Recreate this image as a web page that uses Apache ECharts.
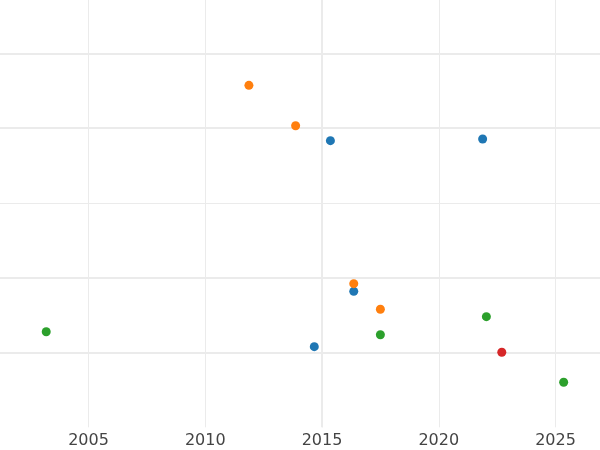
<!DOCTYPE html>
<html>
<head>
<meta charset="utf-8">
<script src="https://cdn.jsdelivr.net/npm/echarts@6/dist/echarts.min.js"></script>
<style>html,body{margin:0;padding:0;background:#fff}#c{width:600px;height:450px}</style>
</head>
<body>
<div id="c"></div>
<script>
// Data
const blueX   = [2015.36, 2021.88, 2016.36, 2014.67];
const blueY   = [3.832, 3.854, 1.818, 1.078];
const orangeX = [2011.87, 2013.87, 2016.36, 2017.50];
const orangeY = [4.572, 4.032, 1.920, 1.578];
const greenX  = [2003.19, 2017.50, 2022.04, 2025.35];
const greenY  = [1.278, 1.238, 1.479, 0.602];
const redX    = [2022.70];
const redY    = [1.003];
const thickGridY = [1, 2, 4, 5];
const thickGridX = [2015];

const colors = ['#1f77b4', '#ff7f0e', '#2ca02c', '#d62728'];
const zip = (xs, ys) => xs.map((x, i) => [x, ys[i]]);

const chart = echarts.init(document.getElementById('c'), null, {renderer: 'canvas'});
const mkScatter = (name, xs, ys, color) => ({
  name, type: 'scatter', z: 5, symbolSize: 9,
  itemStyle: {color, opacity: 1},
  data: zip(xs, ys)
});
chart.setOption({
  animation: false,
  backgroundColor: '#fff',
  grid: {left: -28.25, right: -72.25, top: -21.5, bottom: 22.7, containLabel: false, outerBoundsMode: 'none'},
  xAxis: {
    type: 'value', min: 2000, max: 2030, interval: 5,
    axisLine: {show: false}, axisTick: {show: false},
    axisLabel: {color: '#444', fontSize: 16, fontFamily: 'DejaVu Sans', margin: 6, formatter: v => String(v)},
    splitLine: {show: true, lineStyle: {color: '#ebebeb', width: 1}}
  },
  yAxis: {
    type: 'value', min: 0, max: 6, interval: 1,
    axisLine: {show: false}, axisTick: {show: false}, axisLabel: {show: false},
    splitLine: {show: true, showMinLine: false, lineStyle: {color: '#ebebeb', width: 1}}
  },
  series: [
    {
      type: 'scatter', data: [], z: 1, silent: true,
      markLine: {
        silent: true, symbol: ['none', 'none'], label: {show: false},
        lineStyle: {color: '#ebebeb', width: 2, type: 'solid'},
        data: thickGridY.map(v => ({yAxis: v})).concat(thickGridX.map(v => ({xAxis: v})))
      }
    },
    mkScatter('blue', blueX, blueY, colors[0]),
    mkScatter('orange', orangeX, orangeY, colors[1]),
    mkScatter('green', greenX, greenY, colors[2]),
    mkScatter('red', redX, redY, colors[3])
  ]
});
</script>
</body>
</html>
